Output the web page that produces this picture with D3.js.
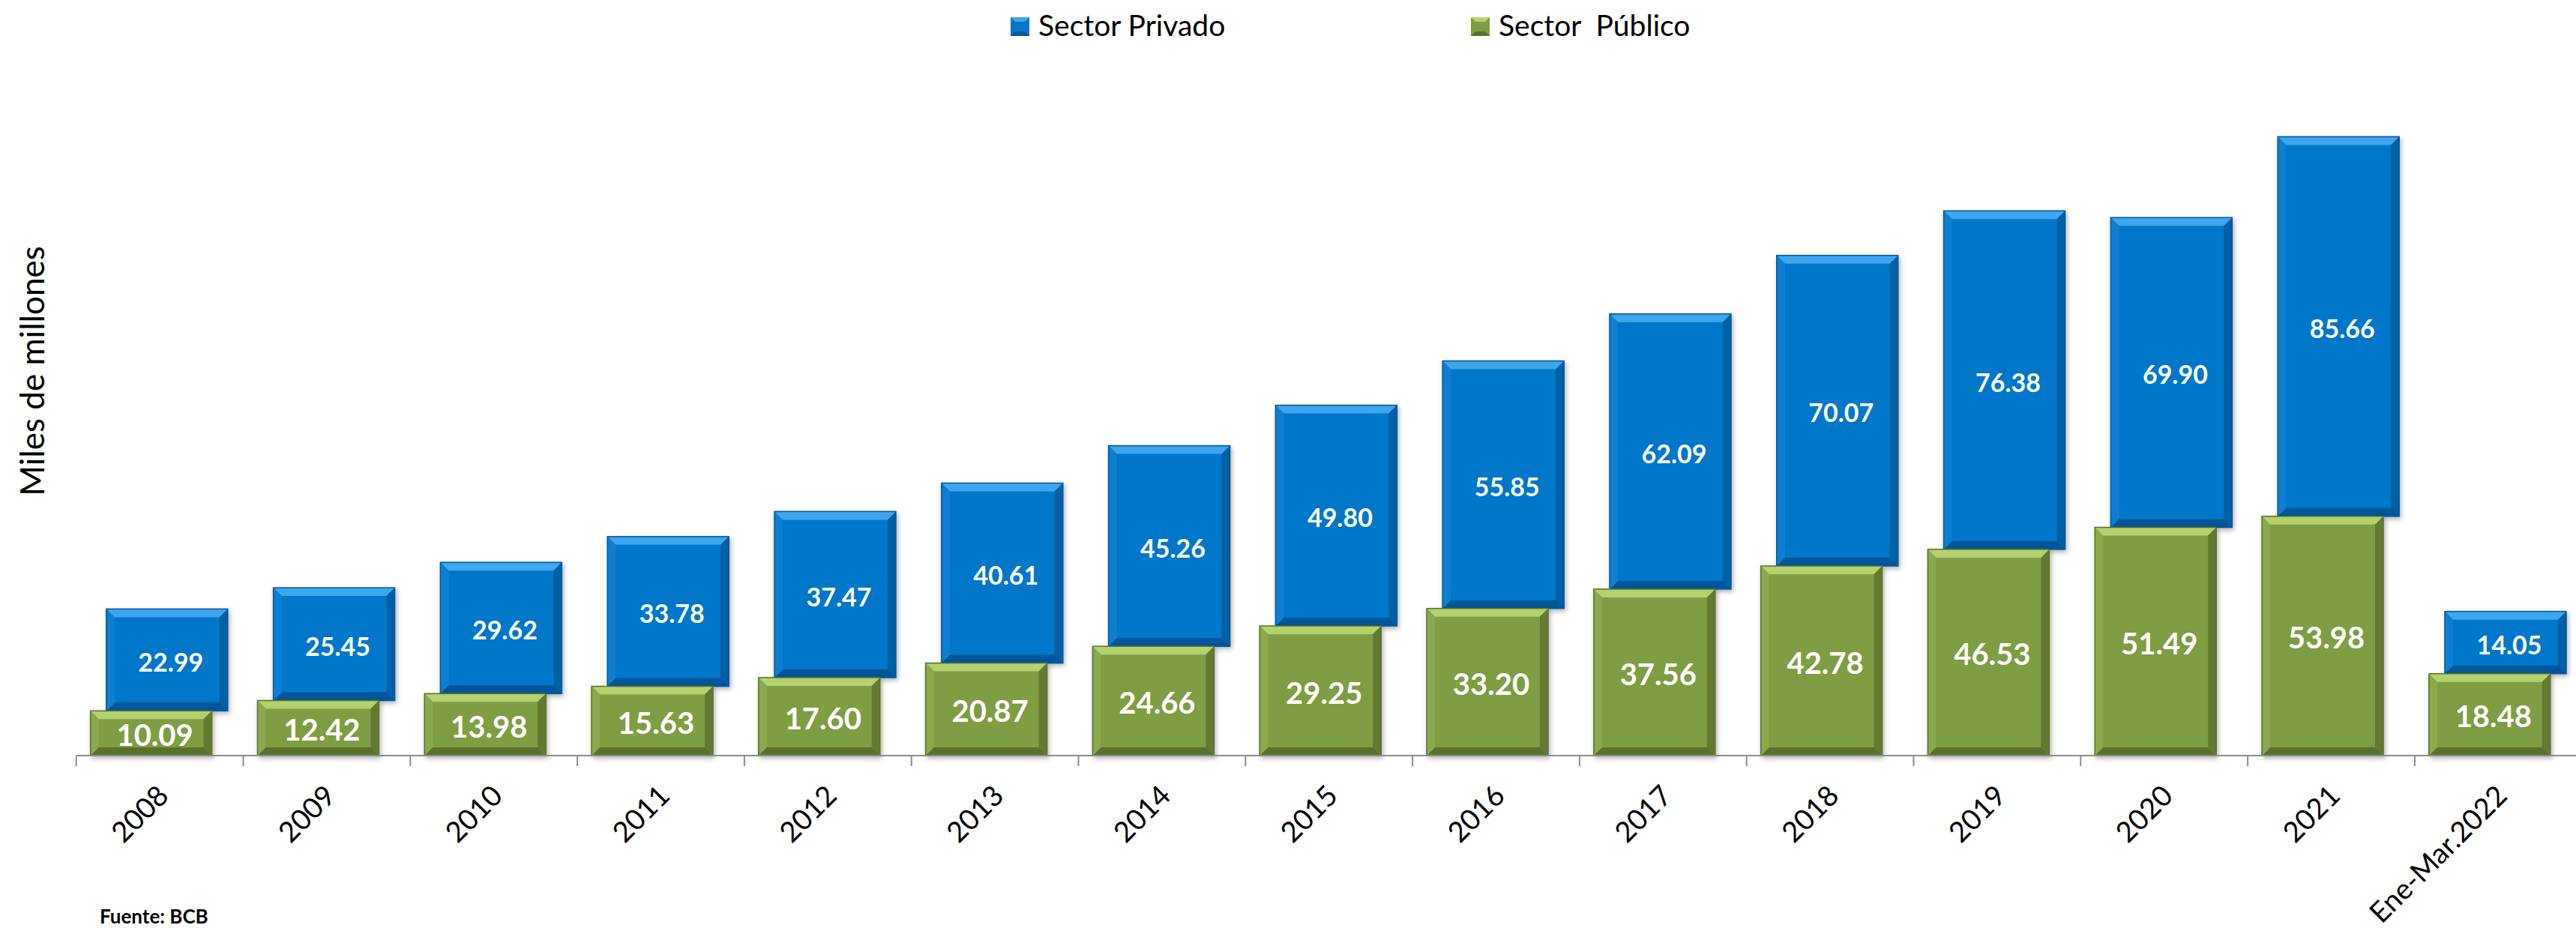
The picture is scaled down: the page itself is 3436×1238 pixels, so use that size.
<!DOCTYPE html>
<html>
  <head>
    <meta charset="utf-8">
    <title>Sector Privado y Sector Público</title>
    <script src="https://d3js.org/d3.v7.min.js"></script>
    <style>
      body { margin: 0; background: #fff; }
      text { font-family: Lato, "Open Sans", sans-serif; }
      .axis path, .axis line { stroke: #8c8c8c; stroke-width: 2; fill: none; }
      .axis text { fill: #000; font-size: 38px; }
      .val { fill: #fff; font-weight: bold; }
    </style>
  </head>
  <body>
    <svg id="main" width="3436" height="1238"></svg>
    <script>
      // categorias y series (miles de millones)
      var categories = ['2008','2009','2010','2011','2012','2013','2014','2015',
                        '2016','2017','2018','2019','2020','2021','Ene-Mar.2022'];
      var publico = [10.09,12.42,13.98,15.63,17.60,20.87,24.66,29.25,33.20,37.56,42.78,46.53,51.49,53.98,18.48];
      var privado = [22.99,25.45,29.62,33.78,37.47,40.61,45.26,49.80,55.85,62.09,70.07,76.38,69.90,85.66,14.05];
      var seriesNames = ['Sector  Público', 'Sector Privado'];

      var svg = d3.select('#main');
      var BASE_Y = 1008;
      var LEFT = 101.7;
      var STEP = 222.8;

      var x = d3.scaleBand()
        .domain(categories)
        .range([LEFT, LEFT + STEP * categories.length])
        .padding(0);

      var y = d3.scaleLinear()
        .domain([0, 160])
        .range([BASE_Y, 62]);

      var colors = {
        publico: { main: '#7f9d42', light: '#b2d26e', dark: '#627a31', bottom: '#5a712c', left: '#8aa94b' },
        privado: { main: '#0677c8', light: '#3ea6ee', dark: '#0560a4', bottom: '#04579a', left: '#0a7fd2' }
      };

      var rows = categories.map(function(c, i) {
        return { cat: c, publico: publico[i], privado: privado[i] };
      });
      var stack = d3.stack().keys(['publico', 'privado'])(rows);

      // sombra
      var defs = svg.append('defs');
      var f = defs.append('filter').attr('id', 'shadow')
        .attr('x', '-10%').attr('y', '-10%').attr('width', '130%').attr('height', '130%');
      f.append('feDropShadow').attr('dx', 2).attr('dy', 3)
        .attr('stdDeviation', 3).attr('flood-color', '#000').attr('flood-opacity', 0.3);

      var bw = x.bandwidth() * 0.727;
      var offsets = { publico: x.bandwidth() * 0.085, privado: x.bandwidth() * 0.18 };

      function bevelBar(g, bx, by, w, h, c) {
        var b = Math.min(11, h / 3);
        var gg = g.append('g').attr('filter', 'url(#shadow)');
        gg.append('rect').attr('x', bx).attr('y', by).attr('width', w).attr('height', h)
          .attr('fill', c.main);
        var poly = function(pts, fill) {
          gg.append('polygon').attr('points', pts.map(function(p) { return p.join(','); }).join(' '))
            .attr('fill', fill);
        };
        poly([[bx, by], [bx + w, by], [bx + w - b, by + b], [bx + b, by + b]], c.light);
        poly([[bx + w, by], [bx + w, by + h], [bx + w - b, by + h - b], [bx + w - b, by + b]], c.dark);
        poly([[bx, by + h], [bx + w, by + h], [bx + w - b, by + h - b], [bx + b, by + h - b]], c.bottom);
        poly([[bx, by], [bx, by + h], [bx + b, by + h - b], [bx + b, by + b]], c.left);
        gg.append('rect').attr('x', bx).attr('y', by).attr('width', w).attr('height', h)
          .attr('fill', 'none').attr('stroke', c.bottom).attr('stroke-width', 1.5);
      }

      var barsG = svg.append('g');
      // primero el privado (atras), luego el publico
      ['privado', 'publico'].forEach(function(key) {
        var layer = stack.filter(function(s) { return s.key === key; })[0];
        layer.forEach(function(d) {
          var bx = x(d.data.cat) + offsets[key];
          var top = y(d[1]);
          var h = y(d[0]) - y(d[1]);
          bevelBar(barsG, bx, top, bw, h, colors[key]);
        });
      });

      // etiquetas de valores
      var labG = svg.append('g');
      stack.forEach(function(layer) {
        var key = layer.key;
        labG.selectAll('text.' + key)
          .data(layer)
          .enter()
          .append('text')
          .attr('class', 'val ' + key)
          .attr('text-anchor', 'middle')
          .attr('dominant-baseline', 'central')
          .style('font-size', key === 'publico' ? '40px' : '34px')
          .attr('x', function(d) { return x(d.data.cat) + offsets[key] + bw / 2 + 5; })
          .attr('y', function(d) { return (y(d[0]) + y(d[1])) / 2 + 2; })
          .text(function(d) { return d.data[key].toFixed(2); });
      });

      // eje x
      var axisG = svg.append('g').attr('class', 'axis');
      axisG.append('line')
        .attr('x1', x.range()[0]).attr('x2', 3436)
        .attr('y1', BASE_Y).attr('y2', BASE_Y);
      axisG.selectAll('line.tick')
        .data(categories)
        .enter()
        .append('line')
        .attr('class', 'tick')
        .attr('x1', function(d) { return x(d); })
        .attr('x2', function(d) { return x(d); })
        .attr('y1', BASE_Y).attr('y2', BASE_Y + 14);

      axisG.selectAll('text.lab')
        .data(categories)
        .enter()
        .append('text')
        .attr('class', 'lab')
        .attr('text-anchor', 'end')
        .attr('transform', function(d) {
          return 'translate(' + (x(d) + x.bandwidth() / 2 + 14) + ',' + 1064 + ') rotate(-45)';
        })
        .text(function(d) { return d; });

      // titulo eje y
      svg.append('text')
        .attr('transform', 'translate(59,495) rotate(-90)')
        .attr('text-anchor', 'middle')
        .style('font-size', '44px')
        .text('Miles de millones');

      // leyenda
      var legend = [
        { name: seriesNames[1], c: colors.privado, x: 1348 },
        { name: seriesNames[0], c: colors.publico, x: 1962 }
      ];
      var lg = svg.append('g').selectAll('g').data(legend).enter().append('g');
      lg.each(function(d) {
        var g = d3.select(this);
        g.append('rect').attr('x', d.x).attr('y', 23).attr('width', 25).attr('height', 25)
          .attr('fill', d.c.main);
        g.append('polygon')
          .attr('points', [[d.x, 23], [d.x + 25, 23], [d.x + 19, 29], [d.x + 6, 29]].map(function(p) { return p.join(','); }).join(' '))
          .attr('fill', d.c.light);
        g.append('polygon')
          .attr('points', [[d.x, 48], [d.x + 25, 48], [d.x + 19, 42], [d.x + 6, 42]].map(function(p) { return p.join(','); }).join(' '))
          .attr('fill', d.c.bottom);
        g.append('text').attr('x', d.x + 37).attr('y', 48)
          .style('font-size', '39px')
          .style('white-space', 'pre')
          .attr('xml:space', 'preserve')
          .text(d.name);
      });

      svg.append('text')
        .attr('x', 133).attr('y', 1232)
        .style('font-size', '26px')
        .style('font-weight', 'bold')
        .text('Fuente: BCB');
    </script>
  </body>
</html>
